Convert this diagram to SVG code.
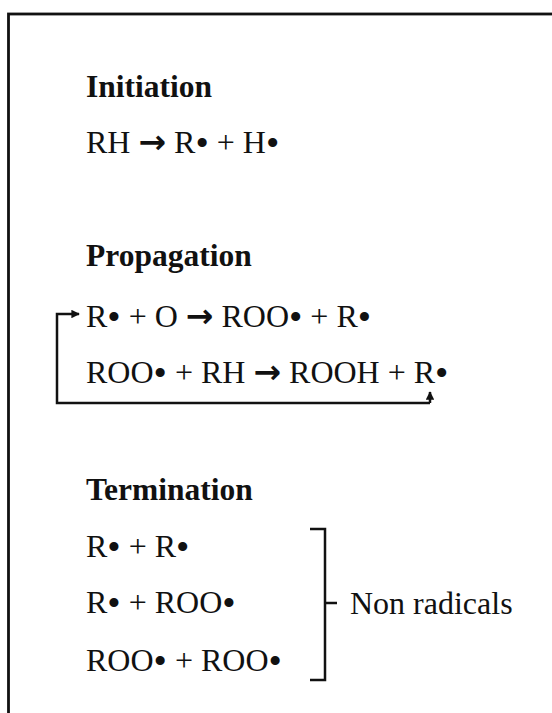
<svg xmlns="http://www.w3.org/2000/svg" width="552" height="713" viewBox="0 0 552 713">
<defs>
<style>
.t{font-family:"Liberation Serif","Times New Roman",serif;font-size:32px;fill:#111}
.h{font-weight:bold;font-size:31.5px}
.b{font-size:38px;baseline-shift:-3px}
.ar{font-family:"DejaVu Sans",sans-serif;font-weight:bold;font-size:33px}
.ln{fill:none;stroke:#111;stroke-width:2.5}
</style>
<marker id="ah" viewBox="0 0 10 10" refX="9" refY="5" markerWidth="3.4" markerHeight="3.4" orient="auto">
<path d="M0,0 L10,5 L0,10 Z" fill="#111"/>
</marker>
</defs>
<rect width="552" height="713" fill="#fff"/>
<rect x="8.5" y="14" width="580" height="720" fill="none" stroke="#111" stroke-width="2.8"/>
<g id="initiation">
<text class="t h" x="86" y="97">Initiation</text>
<text class="t" x="86" y="153">RH <tspan class="ar">→</tspan> R<tspan class="b">•</tspan> + H<tspan class="b">•</tspan></text>
</g>
<g id="propagation">
<text class="t h" x="86" y="266">Propagation</text>
<text class="t" x="86" y="327">R<tspan class="b">•</tspan> + O <tspan class="ar">→</tspan> ROO<tspan class="b">•</tspan> + R<tspan class="b">•</tspan></text>
<text class="t" x="86" y="383">ROO<tspan class="b">•</tspan> + RH <tspan class="ar">→</tspan> ROOH + R<tspan class="b">•</tspan></text>
</g>
<g id="termination">
<text class="t h" x="86" y="500">Termination</text>
<text class="t" x="86" y="557">R<tspan class="b">•</tspan> + R<tspan class="b">•</tspan></text>
<text class="t" x="86" y="613">R<tspan class="b">•</tspan> + ROO<tspan class="b">•</tspan></text>
<text class="t" x="86" y="671">ROO<tspan class="b">•</tspan> + ROO<tspan class="b">•</tspan></text>
<text class="t" x="350" y="614">Non radicals</text>
</g>
<g id="connectors">
<path class="ln" d="M430,403 H57 V314 H79" marker-end="url(#ah)"/>
<path class="ln" d="M430,403 V392" marker-end="url(#ah)"/>
<path class="ln" d="M310,529 H325 V680 H310 M325,603 H337"/>
</g>
</svg>
